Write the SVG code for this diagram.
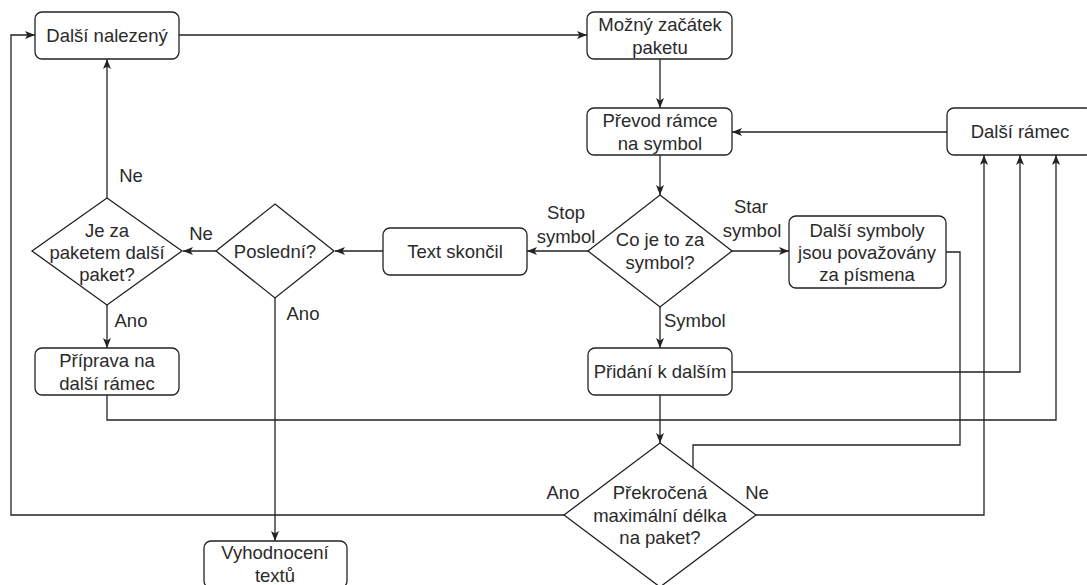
<svg xmlns="http://www.w3.org/2000/svg" width="1087" height="585" viewBox="0 0 1087 585">
<style>
.box{fill:#ffffff;stroke:#222;stroke-width:1.3}
.c{fill:none;stroke:#222;stroke-width:1.3}
text{font-family:"Liberation Sans",Arial,sans-serif;font-size:18.5px;fill:#2a2a2a;text-anchor:middle}
.l{text-anchor:start}
</style>
<defs>
<marker id="a" viewBox="0 0 10 10" refX="10" refY="5" markerWidth="10" markerHeight="10" markerUnits="userSpaceOnUse" orient="auto">
<path d="M0,1 L10,5 L0,9 L2.5,5 Z" fill="#222"/>
</marker>
</defs>
<rect width="1087" height="585" fill="#ffffff"/>
<g id="connectors">
<path class="c" d="M179,35 H587" marker-end="url(#a)"/>
<path class="c" d="M660,59 V108" marker-end="url(#a)"/>
<path class="c" d="M947,132 H732" marker-end="url(#a)"/>
<path class="c" d="M660,155 V195" marker-end="url(#a)"/>
<path class="c" d="M588,251 H527" marker-end="url(#a)"/>
<path class="c" d="M732,251 H789" marker-end="url(#a)"/>
<path class="c" d="M660,307 V348" marker-end="url(#a)"/>
<path class="c" d="M383,251 H335" marker-end="url(#a)"/>
<path class="c" d="M216,251 H183" marker-end="url(#a)"/>
<path class="c" d="M107,198 V59" marker-end="url(#a)"/>
<path class="c" d="M107,305 V348" marker-end="url(#a)"/>
<path class="c" d="M275,298 V541" marker-end="url(#a)"/>
<path class="c" d="M107,395 V420 H1056 V155" marker-end="url(#a)"/>
<path class="c" d="M732,372 H1020 V155" marker-end="url(#a)"/>
<path class="c" d="M660,395 V443" marker-end="url(#a)"/>
<path class="c" d="M756,515 H984 V155" marker-end="url(#a)"/>
<path class="c" d="M564,515 H11 V35 H35" marker-end="url(#a)"/>
<path class="c" d="M946,252 H960 V445 H693 V468"/>
<text x="566" y="219">Stop</text>
<text x="566" y="243">symbol</text>
<text x="751" y="213">Star</text>
<text x="752" y="237">symbol</text>
<text class="l" x="664" y="327">Symbol</text>
<text x="201" y="240">Ne</text>
<text x="131" y="182">Ne</text>
<text x="131" y="327">Ano</text>
<text x="303" y="320">Ano</text>
<text x="757" y="499">Ne</text>
<text x="563" y="499">Ano</text>
</g>
<g id="n-dalsi-nalezeny">
<rect class="box" x="35" y="12" width="144" height="47" rx="7"/>
<text x="107" y="42">Další nalezený</text>
</g>
<g id="n-mozny-zacatek">
<rect class="box" x="587" y="12" width="145" height="47" rx="7"/>
<text x="660" y="31">Možný začátek</text>
<text x="660" y="54">paketu</text>
</g>
<g id="n-prevod">
<rect class="box" x="587" y="108" width="145" height="47" rx="7"/>
<text x="660" y="127">Převod rámce</text>
<text x="660" y="150">na symbol</text>
</g>
<g id="n-dalsi-ramec">
<rect class="box" x="947" y="108" width="146" height="47" rx="7"/>
<text x="1020" y="138">Další rámec</text>
</g>
<g id="n-co-je">
<polygon class="box" points="660,195 732,251 660,307 588,251"/>
<text x="660" y="246">Co je to za</text>
<text x="660" y="269">symbol?</text>
</g>
<g id="n-text-skoncil">
<rect class="box" x="383" y="228" width="144" height="47" rx="7"/>
<text x="455" y="258">Text skončil</text>
</g>
<g id="n-dalsi-symboly">
<rect class="box" x="789" y="216" width="157" height="72" rx="7"/>
<text x="867" y="237">Další symboly</text>
<text x="867" y="259">jsou považovány</text>
<text x="867" y="281">za písmena</text>
</g>
<g id="n-posledni">
<polygon class="box" points="275,204 334,251 275,298 216,251"/>
<text x="275" y="258">Poslední?</text>
</g>
<g id="n-je-za">
<polygon class="box" points="107,198 182,251 107,305 32,251"/>
<text x="107" y="237">Je za</text>
<text x="107" y="259">paketem další</text>
<text x="107" y="281">paket?</text>
</g>
<g id="n-priprava">
<rect class="box" x="35" y="348" width="144" height="47" rx="7"/>
<text x="107" y="367">Příprava na</text>
<text x="107" y="390">další rámec</text>
</g>
<g id="n-pridani">
<rect class="box" x="588" y="348" width="144" height="47" rx="7"/>
<text x="660" y="378">Přidání k dalším</text>
</g>
<g id="n-prekrocena">
<polygon class="box" points="660,443 756,515 660,587 564,515"/>
<text x="660" y="499">Překročená</text>
<text x="660" y="522">maximální délka</text>
<text x="660" y="544">na paket?</text>
</g>
<g id="n-vyhodnoceni">
<rect class="box" x="204" y="541" width="143" height="47" rx="7"/>
<text x="275" y="559">Vyhodnocení</text>
<text x="275" y="582">textů</text>
</g>
</svg>
